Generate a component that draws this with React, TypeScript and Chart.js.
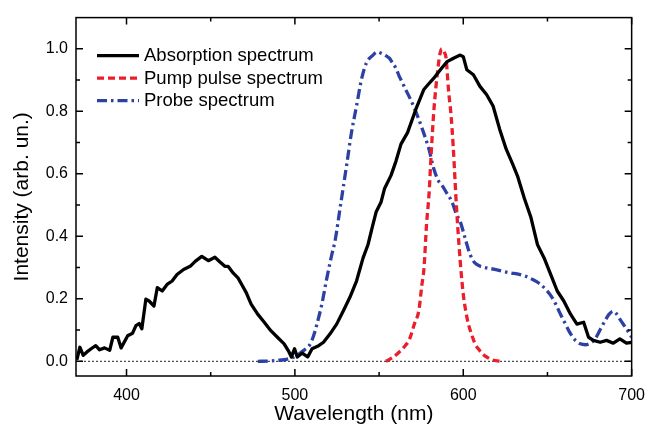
import React, { useEffect, useRef } from "react";
import { Chart, registerables } from "chart.js";

Chart.register(...registerables);

// ---- data ----
const absWl = [370.5, 372.3, 374.3, 376.5, 379.2, 381.7, 384, 387, 390, 391.9, 394.8, 396.8, 400.7, 403.6, 405.6, 407.5, 409.1, 411.5, 413.4, 416.3, 418.3, 421.2, 424.1, 427.1, 430, 433.9, 437.8, 440.8, 444.7, 448.6, 452.5, 455.5, 458.4, 460.3, 463.3, 466.2, 468.5, 471.1, 474, 477.9, 481.8, 485.7, 489.6, 493.6, 496.5, 497.9, 499.8, 501.4, 504.3, 507.6, 510.2, 514.1, 517, 520.9, 524.8, 528.8, 532.6, 536.6, 540.5, 543.4, 546, 548.3, 551.2, 553.2, 557.1, 560, 563, 566.9, 571.8, 576.6, 579, 582.5, 586.4, 590.4, 594.2, 598.2, 600, 602.1, 606, 609.9, 613.8, 617.7, 621.6, 625.5, 629.4, 632.4, 636.3, 640.2, 644.1, 648, 651.9, 655.8, 659.7, 663.7, 667.5, 671.5, 674.4, 677.3, 681.3, 685.1, 689.1, 693, 696.9, 700];
const absVal = [0.005, 0.045, 0.019, 0.03, 0.041, 0.05, 0.037, 0.043, 0.035, 0.077, 0.077, 0.043, 0.082, 0.09, 0.114, 0.121, 0.104, 0.199, 0.193, 0.177, 0.236, 0.225, 0.246, 0.257, 0.278, 0.294, 0.304, 0.32, 0.336, 0.322, 0.333, 0.318, 0.304, 0.304, 0.283, 0.267, 0.245, 0.22, 0.183, 0.151, 0.125, 0.098, 0.077, 0.056, 0.03, 0.014, 0.04, 0.014, 0.026, 0.014, 0.04, 0.05, 0.061, 0.088, 0.119, 0.162, 0.204, 0.257, 0.331, 0.373, 0.43, 0.479, 0.51, 0.552, 0.595, 0.64, 0.695, 0.732, 0.806, 0.87, 0.885, 0.906, 0.933, 0.959, 0.97, 0.98, 0.975, 0.933, 0.917, 0.88, 0.854, 0.817, 0.743, 0.679, 0.63, 0.59, 0.521, 0.46, 0.373, 0.331, 0.278, 0.225, 0.193, 0.151, 0.119, 0.125, 0.077, 0.067, 0.061, 0.067, 0.058, 0.072, 0.058, 0.061];

const pumpWl = [554, 558, 562, 565.5, 568, 571, 573.7, 575.3, 576.7, 578.2, 579.6, 581, 582.5, 583.8, 585, 586.2, 587.2, 588.6, 589.8, 591.2, 592.7, 594, 595, 596, 597.5, 598.8, 600.1, 601.5, 603, 605, 607, 609.5, 611.8, 614.5, 617, 622];
const pumpVal = [0.0, 0.012, 0.03, 0.05, 0.07, 0.12, 0.165, 0.24, 0.3, 0.44, 0.53, 0.67, 0.8, 0.88, 0.94, 0.985, 1.0, 0.99, 0.97, 0.87, 0.79, 0.69, 0.59, 0.49, 0.37, 0.28, 0.21, 0.16, 0.12, 0.085, 0.056, 0.036, 0.022, 0.012, 0.005, 0.0];

const probeWl = [478, 485, 490, 493.6, 497, 499.4, 502.5, 505.3, 507.5, 509.2, 511, 513.1, 516, 519, 521.9, 524, 526.8, 530.7, 533.6, 536.6, 539.5, 542.4, 546.4, 549, 551.2, 553.5, 556.1, 558, 560, 562, 563.9, 565.9, 567.8, 571, 575.7, 579.6, 582.5, 585, 587.4, 590, 593.3, 596, 598.2, 601.1, 603.4, 605.5, 608, 613.8, 618, 623.6, 628, 633.3, 637, 641.2, 645, 649, 652, 654.9, 657.8, 660.7, 663.5, 666.6, 669.5, 672.5, 675.5, 678.3, 681.2, 684.2, 686.5, 689.1, 691, 693, 696.9, 700];
const probeVal = [0.0, 0.001, 0.003, 0.005, 0.009, 0.014, 0.024, 0.035, 0.045, 0.056, 0.08, 0.119, 0.183, 0.267, 0.341, 0.39, 0.489, 0.627, 0.732, 0.817, 0.901, 0.954, 0.98, 0.99, 0.986, 0.98, 0.97, 0.955, 0.938, 0.912, 0.891, 0.868, 0.848, 0.81, 0.743, 0.679, 0.616, 0.58, 0.563, 0.54, 0.51, 0.47, 0.447, 0.394, 0.352, 0.325, 0.31, 0.299, 0.295, 0.288, 0.283, 0.278, 0.272, 0.262, 0.25, 0.23, 0.21, 0.183, 0.15, 0.119, 0.09, 0.067, 0.056, 0.053, 0.058, 0.072, 0.1, 0.13, 0.15, 0.16, 0.152, 0.135, 0.104, 0.077];

const zeroWl = [370, 700];
const zeroVal = [0, 0];

const seriesNames = ["Absorption spectrum", "Pump pulse spectrum", "Probe spectrum"];

const xMin = 370;
const xMax = 700;
const yMin = -0.047;
const yMax = 1.1;
const xMajorTicks = [400, 500, 600, 700];
const xMinorTicks = [450, 550, 650];
const yMajorTicks = [0, 0.2, 0.4, 0.6, 0.8, 1.0];
const yMinorTicks = [0.1, 0.3, 0.5, 0.7, 0.9];

const FONT = '"Liberation Sans", Arial, Helvetica, sans-serif';
const BLACK = "#000000";
const RED = "#ea1f2b";
const BLUE = "#2d40a3";

const toPts = (xs: number[], ys: number[]) => xs.map((x, i) => ({ x, y: ys[i] }));

const framePlugin = {
  id: "framePlugin",
  afterDraw(chart: any) {
    const { ctx, chartArea: a, scales } = chart;
    const x = scales.x;
    const y = scales.y;
    ctx.save();
    ctx.strokeStyle = "#000";
    ctx.lineWidth = 1.5;
    ctx.setLineDash([]);
    ctx.strokeRect(a.left, a.top, a.right - a.left, a.bottom - a.top);
    ctx.beginPath();
    const majorLen = 7;
    const minorLen = 4;
    const xTick = (v: number, len: number) => {
      const px = x.getPixelForValue(v);
      ctx.moveTo(px, a.bottom);
      ctx.lineTo(px, a.bottom - len);
      ctx.moveTo(px, a.top);
      ctx.lineTo(px, a.top + len);
    };
    const yTick = (v: number, len: number) => {
      const py = y.getPixelForValue(v);
      ctx.moveTo(a.left, py);
      ctx.lineTo(a.left + len, py);
      ctx.moveTo(a.right, py);
      ctx.lineTo(a.right - len, py);
    };
    xMajorTicks.forEach((v) => xTick(v, majorLen));
    xMinorTicks.forEach((v) => xTick(v, minorLen));
    yMajorTicks.forEach((v) => yTick(v, majorLen));
    yMinorTicks.forEach((v) => yTick(v, minorLen));
    ctx.stroke();

    // legend inside plot area
    const rows = [38, 60.5, 83];
    const x0 = a.left + 21;
    const x1 = a.left + 63;
    ctx.font = `18.5px ${FONT}`;
    ctx.textBaseline = "alphabetic";
    ctx.textAlign = "left";
    for (let i = 0; i < 3; i++) {
      const ds = chart.data.datasets[i];
      const ly = a.top + rows[i];
      ctx.beginPath();
      ctx.strokeStyle = ds.borderColor;
      ctx.lineWidth = ds.borderWidth;
      ctx.setLineDash(ds.borderDash || []);
      ctx.moveTo(x0, ly);
      ctx.lineTo(x1, ly);
      ctx.stroke();
      ctx.setLineDash([]);
      ctx.fillStyle = "#000";
      ctx.fillText(ds.label, a.left + 68, ly + 5.5);
    }
    ctx.restore();
  },
};

export default function App() {
  const canvasRef = useRef<HTMLCanvasElement | null>(null);

  useEffect(() => {
    document.body.style.margin = "0";
    const canvas = canvasRef.current;
    if (!canvas) return;
    const chart = new Chart(canvas, {
      type: "line",
      data: {
        datasets: [
          {
            label: seriesNames[0],
            data: toPts(absWl, absVal),
            borderColor: BLACK,
            borderWidth: 3.3,
            pointRadius: 0,
            tension: 0,
            borderJoinStyle: "round",
          },
          {
            label: seriesNames[1],
            data: toPts(pumpWl, pumpVal),
            borderColor: RED,
            borderWidth: 3.3,
            borderDash: [7, 4],
            pointRadius: 0,
            cubicInterpolationMode: "monotone",
          },
          {
            label: seriesNames[2],
            data: toPts(probeWl, probeVal),
            borderColor: BLUE,
            borderWidth: 3.3,
            borderDash: [10, 4, 2.5, 4],
            pointRadius: 0,
            cubicInterpolationMode: "monotone",
          },
          {
            label: "zero",
            data: toPts(zeroWl, zeroVal),
            borderColor: "#222",
            borderWidth: 1,
            borderDash: [2, 2],
            pointRadius: 0,
          },
        ],
      } as any,
      options: {
        responsive: false,
        animation: false,
        parsing: false as any,
        layout: { padding: { left: 0, right: 16, top: 14, bottom: 0 } },
        plugins: {
          legend: { display: false },
          tooltip: { enabled: false },
        },
        scales: {
          x: {
            type: "linear",
            min: xMin,
            max: xMax,
            grid: { display: false, drawTicks: false },
            border: { display: false },
            afterBuildTicks: (s: any) => {
              s.ticks = xMajorTicks.map((v) => ({ value: v }));
            },
            afterFit: (s: any) => {
              s.height = 51;
            },
            ticks: {
              color: "#000",
              padding: 10,
              maxRotation: 0,
              font: { family: FONT, size: 16 },
              callback: (v: any) => String(v),
            },
            title: {
              display: true,
              text: "Wavelength (nm)",
              color: "#000",
              padding: { top: 0, bottom: 0 },
              font: { family: FONT, size: 21 },
            },
          },
          y: {
            type: "linear",
            min: yMin,
            max: yMax,
            grid: { display: false, drawTicks: false },
            border: { display: false },
            afterBuildTicks: (s: any) => {
              s.ticks = yMajorTicks.map((v) => ({ value: v }));
            },
            afterFit: (s: any) => {
              s.width = 76;
            },
            ticks: {
              color: "#000",
              padding: 8,
              font: { family: FONT, size: 16 },
              callback: (v: any) => Number(v).toFixed(1),
            },
            title: {
              display: true,
              text: "Intensity (arb. un.)",
              color: "#000",
              padding: { top: 10, bottom: 0 },
              font: { family: FONT, size: 21 },
            },
          },
        },
      } as any,
      plugins: [framePlugin],
    });
    return () => chart.destroy();
  }, []);

  return (
    <div style={{ position: "fixed", left: 0, top: 0, width: 655, height: 427, background: "#fff" }}>
      <canvas ref={canvasRef} width={655} height={427} style={{ display: "block" }} />
    </div>
  );
}
